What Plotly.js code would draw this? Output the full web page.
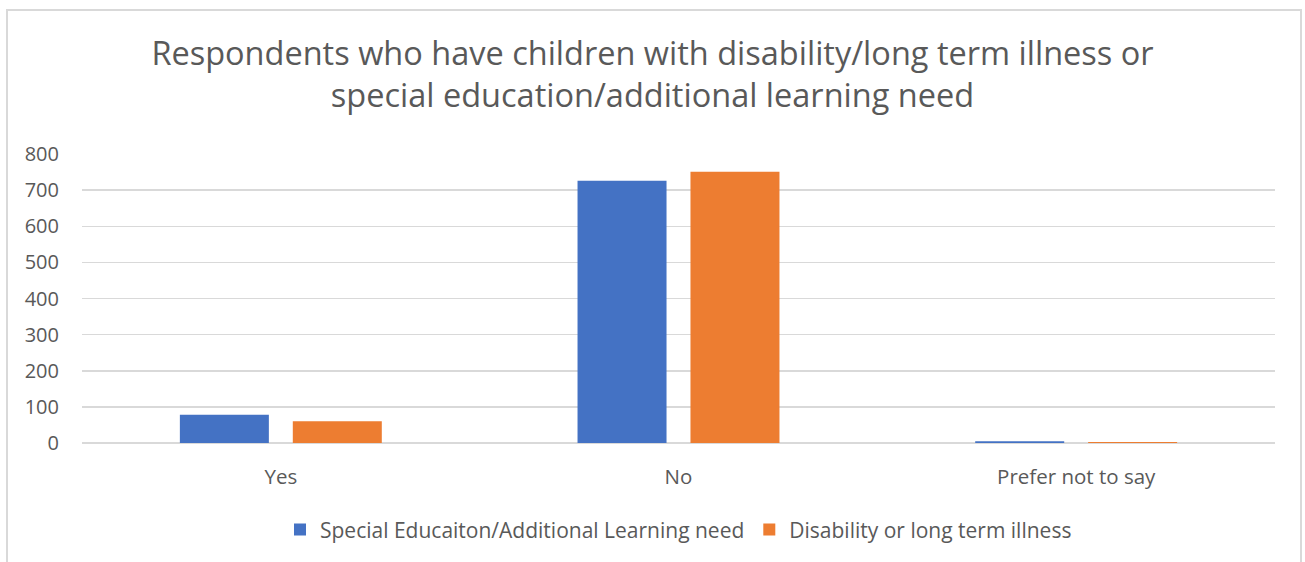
<!DOCTYPE html>
<html>
<head>
<meta charset="utf-8">
<script src="https://cdn.plot.ly/plotly-3.0.1.min.js"></script>
<style>
html,body{margin:0;padding:0;background:#fff;}
#wrap{position:relative;width:1305px;height:562px;overflow:hidden;}
#chart{position:absolute;left:0;top:0;width:1305px;height:562px;}
#border{position:absolute;left:6px;top:9px;width:1296px;height:600px;border:2px solid #d9d9d9;box-sizing:border-box;pointer-events:none;}
</style>
</head>
<body>
<div id="wrap">
<div id="chart"></div>
<div id="border"></div>
</div>
<script>
const categories = ["Yes", "No", "Prefer not to say"];
const specialEducation = [78, 726, 5];
const disability = [60, 751, 3];
const seriesNames = ["Special Educaiton/Additional Learning need", "Disability or long term illness"];
const yTicks = [0, 100, 200, 300, 400, 500, 600, 700, 800];
const titleText = "Respondents who have children with disability/long term illness or<br>special education/additional learning need";

const textColor = "#595959";
const fontFam = "'Open Sans', sans-serif";

const traces = [
  {type: "bar", name: seriesNames[0], x: categories, y: specialEducation,
   marker: {color: "#4472C4", line: {width: 0}}, hoverinfo: "skip"},
  {type: "bar", name: seriesNames[1], x: categories, y: disability,
   marker: {color: "#ED7D31", line: {width: 0}}, hoverinfo: "skip"}
];

const layout = {
  width: 1305, height: 562,
  paper_bgcolor: "rgba(0,0,0,0)", plot_bgcolor: "#fff",
  margin: {l: 82, r: 30, t: 154, b: 117},
  font: {family: fontFam, color: textColor, size: 20},
  title: {text: titleText, font: {family: fontFam, size: 32.5, color: textColor},
          x: 0.5, xanchor: "center", xref: "container", y: 0.884, yanchor: "top", yref: "container"},
  barmode: "group", bargap: 0.432, bargroupgap: 0.212,
  showlegend: true,
  legend: {orientation: "h", x: 0.5, xanchor: "center", y: -0.23, yanchor: "top",
           font: {family: fontFam, size: 21, color: textColor}, itemwidth: 30},
  xaxis: {type: "category", showgrid: false, showline: false, zeroline: false, ticks: "",
          tickfont: {family: fontFam, size: 20.5, color: textColor}, ticklabelstandoff: 19, fixedrange: true},
  yaxis: {range: [0, 800], tickvals: yTicks, showgrid: true, gridcolor: "#d9d9d9", gridwidth: 1.5,
          zeroline: true, zerolinecolor: "#d9d9d9", zerolinewidth: 1.5, showline: false, ticks: "",
          tickfont: {family: fontFam, size: 20, color: textColor}, ticklabelstandoff: 22, fixedrange: true}
};

Plotly.newPlot("chart", traces, layout, {displayModeBar: false, staticPlot: true});
</script>
</body>
</html>
